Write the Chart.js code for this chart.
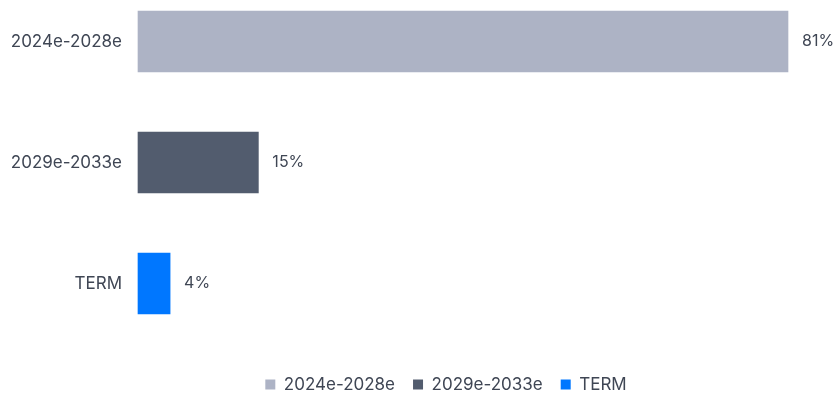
<!DOCTYPE html>
<html>
<head>
<meta charset="utf-8">
<script src="https://cdn.jsdelivr.net/npm/chart.js@4/dist/chart.umd.min.js"></script>
<style>
  html, body { margin: 0; padding: 0; background: #fff; overflow: hidden; }
  #wrap { position: relative; width: 833px; height: 403px; }
</style>
</head>
<body>
<div id="wrap"><canvas id="split"></canvas></div>
<script>
// share of value by period
const periods = ['2024e-2028e', '2029e-2033e', 'TERM'];
const shares = [81, 15, 4];
const barColors = ['#adb3c5', '#525c6e', '#0077ff'];

const textColor = '#3f4654';
const fontFamily = 'Inter, Lato, sans-serif';
const fontSize = 17;

// prints "xx%" just right of each bar
const valueLabels = {
    id: 'valueLabels',
    afterDatasetsDraw(chart) {
        const ctx = chart.ctx;
        const meta = chart.getDatasetMeta(0);
        ctx.save();
        ctx.font = '16px ' + fontFamily;
        ctx.fillStyle = textColor;
        ctx.textAlign = 'left';
        ctx.textBaseline = 'middle';
        meta.data.forEach((bar, i) => {
            ctx.fillText(shares[i] + '%', bar.x + 14, bar.y);
        });
        ctx.restore();
    }
};

// legend row sits a little right of the canvas centre
const legendNudge = {
    id: 'legendNudge',
    afterLayout(chart) {
        chart.legend.left += 52;
        chart.legend.right += 52;
    }
};

const ctxsplit = document.getElementById('split').getContext('2d');
const split = new Chart(ctxsplit, {
    type: 'bar',
    data: {
        labels: periods,
        datasets: [{
            data: shares,
            backgroundColor: barColors,
            borderWidth: 0,
            barThickness: 61,
            clip: false
        }]
    },
    options: {
        indexAxis: 'y',
        responsive: true,
        maintainAspectRatio: false,
        animation: false,
        layout: { padding: { top: 41.5, right: 45, left: 0, bottom: 0 } },
        scales: {
            x: {
                min: 0,
                max: Math.max(...shares),
                grid: { display: false },
                border: { display: false },
                ticks: { display: false },
                afterFit: (scale) => { scale.height = 74.5; }
            },
            y: {
                offset: false,
                grid: { display: false, drawTicks: false },
                border: { display: false },
                ticks: {
                    padding: 16,
                    color: textColor,
                    font: { family: fontFamily, size: fontSize }
                },
                afterFit: (scale) => { scale.width = 138; }
            }
        },
        plugins: {
            tooltip: { enabled: false },
            legend: {
                position: 'bottom',
                labels: {
                    boxWidth: 10,
                    boxHeight: 10,
                    padding: 18,
                    color: textColor,
                    font: { family: fontFamily, size: fontSize },
                    generateLabels: () => periods.map((p, i) => ({
                        text: p,
                        fillStyle: barColors[i],
                        strokeStyle: barColors[i],
                        lineWidth: 0,
                        fontColor: textColor,
                        index: i
                    }))
                }
            }
        }
    },
    plugins: [valueLabels, legendNudge]
});
</script>
</body>
</html>
